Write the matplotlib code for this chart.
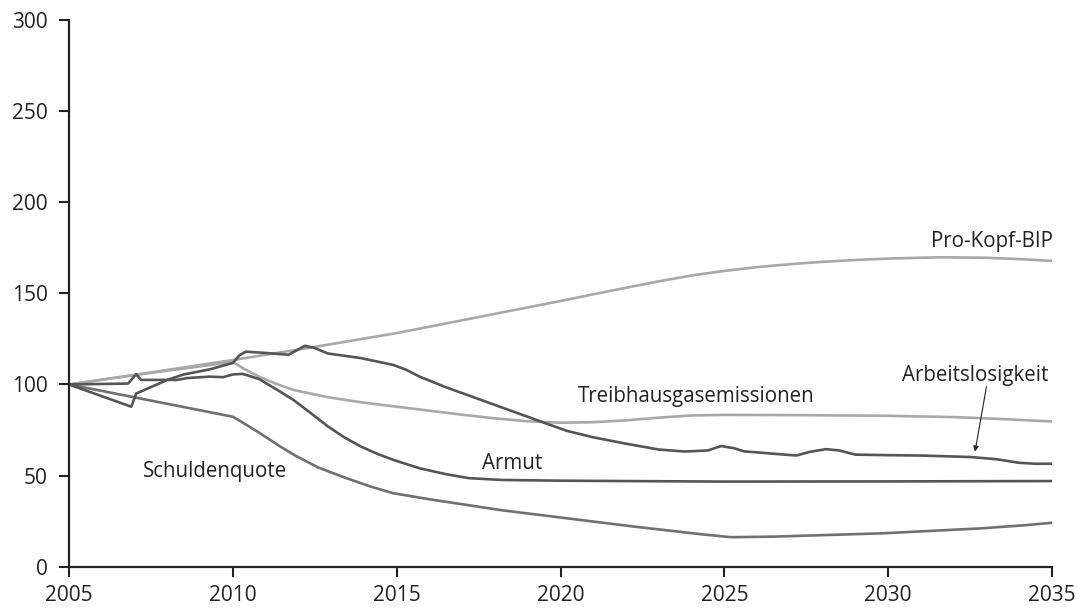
import matplotlib
matplotlib.use("Agg")
import matplotlib.pyplot as plt

plt.rcParams['font.family'] = ['Open Sans', 'DejaVu Sans']

# ---- data ----
bip_years = [2005, 2007.5, 2010, 2012.5, 2015, 2017.5, 2020, 2021.5, 2023, 2024, 2025, 2026, 2027, 2028,
             2029, 2030, 2031.6, 2033, 2034, 2035]
bip_vals = [100, 106.6, 113.4, 120.6, 128.2, 137, 145.8, 151.3, 156.6, 159.8, 162.3, 164.4, 166, 167.3,
            168.3, 169.1, 169.8, 169.5, 168.8, 167.8]

thg_years = [2005, 2007.5, 2010, 2010.4, 2010.8, 2011.3, 2011.85, 2012.9, 2014, 2015, 2016, 2017, 2018, 2019,
             2020, 2021, 2022, 2023, 2024, 2025, 2027, 2030, 2032, 2033.5, 2035]
thg_vals = [100, 106.4, 112.3, 108, 104.3, 100.5, 97, 93, 90, 87.8, 85.6, 83.4, 81.4, 79.8,
            79, 79.3, 80.3, 81.8, 83, 83.3, 83.2, 82.8, 82.1, 81, 79.7]

arb_years = [2005, 2006.9, 2007.05, 2008, 2008.5, 2009.3, 2010, 2010.2, 2010.4, 2011, 2011.7, 2012.2, 2012.5,
             2012.9, 2013.9, 2014.9, 2015.3, 2015.7, 2016.5, 2017.5, 2018.5, 2019.5, 2020.2, 2021, 2022, 2023,
             2023.8, 2024.5, 2024.9, 2025.3, 2025.6, 2026.5, 2027.2, 2027.6, 2028.1, 2028.5, 2029,
             2030, 2031, 2032.5, 2033.3, 2034, 2034.5, 2035]
arb_vals = [100, 87.8, 95, 102.5, 105.5, 108.3, 111.8, 116, 118, 117.3, 116.3, 121.2, 120,
            117, 114.5, 110.7, 108, 104.3, 98.5, 92, 85.5, 79, 74.5, 71, 67.5, 64.3,
            63.2, 63.8, 66.2, 65, 63.3, 62, 61, 63, 64.5, 63.8, 61.5,
            61.2, 61, 60.2, 59, 57, 56.5, 56.5]

arm_years = [2005, 2006.8, 2007.05, 2007.2, 2008.3, 2008.6, 2009.3, 2009.7, 2010, 2010.3, 2010.8, 2011.45,
             2011.85, 2012.4, 2012.9, 2013.4, 2013.9, 2014.4, 2014.9, 2015.7, 2016.5, 2017.2, 2018.2,
             2020, 2025, 2030, 2035]
arm_vals = [100, 100.5, 105.6, 102.5, 102.5, 103.5, 104.3, 104, 105.5, 105.8, 103, 96,
            91.5, 84, 77, 71, 66, 62, 58.6, 54, 50.8, 48.6, 47.6,
            47.2, 46.7, 46.8, 47]

sch_years = [2005, 2010, 2010.4, 2010.85, 2011.4, 2011.9, 2012.6, 2013.4, 2014.2, 2014.9, 2016, 2018.2,
             2020, 2022.25, 2024.3, 2025.2, 2026.5, 2029.8, 2032.8, 2034.2, 2035]
sch_vals = [100, 82.3, 78, 73, 66.5, 61, 54.5, 49, 44, 40.3, 37, 31,
            27, 22, 17.8, 16.2, 16.5, 18.3, 21, 22.8, 24.1]

x_ticks = [2005, 2010, 2015, 2020, 2025, 2030, 2035]
y_ticks = [0, 50, 100, 150, 200, 250, 300]

# ---- figure ----
fig = plt.figure(figsize=(10.78, 6.08), dpi=100)
ax = fig.add_axes([69 / 1078, 1 - 566.7 / 608, (1052 - 69) / 1078, (566.7 - 20) / 608])

light = '#a8a8a8'
dark = '#555555'
mid = '#707070'
lw = 1.9

ax.plot(bip_years, bip_vals, color=light, lw=lw, solid_joinstyle='round')
ax.plot(thg_years, thg_vals, color=light, lw=lw, solid_joinstyle='round')
ax.plot(sch_years, sch_vals, color=mid, lw=lw, solid_joinstyle='round')
ax.plot(arm_years, arm_vals, color=dark, lw=lw, solid_joinstyle='round')
ax.plot(arb_years, arb_vals, color=dark, lw=lw, solid_joinstyle='round')

ax.set_xlim(2005, 2035)
ax.set_ylim(0, 300)
ax.set_xticks(x_ticks)
ax.set_yticks(y_ticks)
ax.tick_params(axis='both', direction='out', length=7, width=1.5, color='#222222',
               labelsize=15, labelcolor='#222222')
ax.tick_params(axis='y', pad=8.5)
ax.tick_params(axis='x', pad=6)
for s in ['top', 'right']:
    ax.spines[s].set_visible(False)
for s in ['left', 'bottom']:
    ax.spines[s].set_linewidth(1.6)
    ax.spines[s].set_color('#222222')

tc = '#222222'
fs = 14.8
ax.text(2035.03, 175.5, 'Pro-Kopf-BIP', ha='right', va='baseline', fontsize=fs, color=tc)
ax.text(2020.53, 90.6, 'Treibhausgasemissionen', ha='left', va='baseline', fontsize=fs, color=tc)
ax.text(2030.42, 101.9, 'Arbeitslosigkeit', ha='left', va='baseline', fontsize=fs, color=tc)
ax.text(2017.6, 53.6, 'Armut', ha='left', va='baseline', fontsize=fs, color=tc)
ax.text(2007.27, 49.4, 'Schuldenquote', ha='left', va='baseline', fontsize=fs, color=tc)

ax.annotate('', xy=(2032.65, 63.1), xytext=(2033.0, 98.8),
            arrowprops=dict(arrowstyle='-|>', color='#222222', lw=0.8,
                            mutation_scale=8, shrinkA=0, shrinkB=0))

fig.savefig('out.png', dpi=100)
